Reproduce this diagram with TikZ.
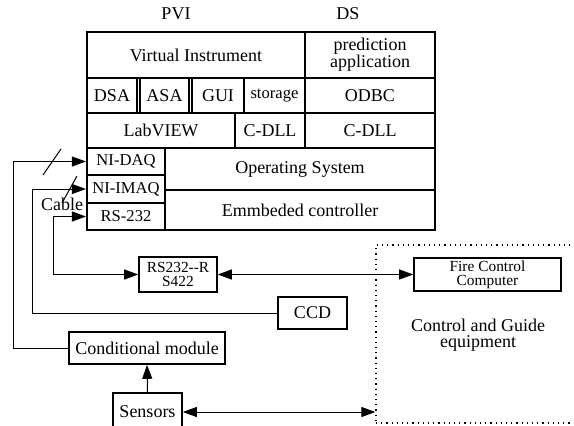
\documentclass[tikz,border=0pt]{standalone}
\usepackage{fontspec}
\setmainfont{Liberation Serif}
\usetikzlibrary{arrows.meta}

\begin{document}
\begin{tikzpicture}[x=0.5pt,y=-0.5pt,
  cell/.style={draw, line width=1.1pt, inner sep=0pt, align=center, font=\fontsize{9}{8.5}\selectfont},
  unit/.style={draw, line width=0.8pt, inner sep=0pt, align=center, font=\fontsize{9}{8.5}\selectfont},
  smalltext/.style={font=\fontsize{8.3}{8}\selectfont},
  tinytext/.style={font=\fontsize{7.7}{7.2}\selectfont},
  link/.style={line width=0.5pt, -{Triangle[length=7pt,width=5pt]}},
  biarrow/.style={line width=0.5pt, {Triangle[length=7pt,width=5pt]}-{Triangle[length=7pt,width=5pt]}}]
\useasboundingbox (0,0) rectangle (574,425);
\node[font=\fontsize{9}{9}\selectfont] (pvi) at (176,14) {PVI};
\node[font=\fontsize{9}{9}\selectfont] (ds) at (348,14) {DS};
% software stack
\node[cell, minimum width=109pt, minimum height=23pt] (vi) at (196,55) {Virtual Instrument};
\node[cell, minimum width=65pt, minimum height=23pt] (pred) at (370,55) {prediction\\application};
\node[cell, minimum width=25pt, minimum height=17.5pt] (dsa) at (112,95.5) {DSA};
\node[cell, minimum width=24.5pt, minimum height=17.5pt] (asa) at (164.5,95.5) {ASA};
\node[cell, minimum width=26pt, minimum height=17.5pt] (gui) at (218,95.5) {GUI};
\node[cell, smalltext, minimum width=30.5pt, minimum height=17.5pt] (store) at (274.5,95.5) {storage};
\node[cell, minimum width=65pt, minimum height=17.5pt] (odbc) at (370,95.5) {ODBC};
\node[cell, minimum width=74pt, minimum height=17.5pt] (labview) at (161,130.5) {LabVIEW};
\node[cell, minimum width=35pt, minimum height=17.5pt] (cdlla) at (270,130.5) {C-DLL};
\node[cell, minimum width=65pt, minimum height=17.5pt] (cdllb) at (370,130.5) {C-DLL};
\node[cell, smalltext, minimum width=39pt, minimum height=13.5pt] (nidaq) at (126,161.5) {NI-DAQ};
\node[cell, smalltext, minimum width=39pt, minimum height=14pt] (nimaq) at (126,189) {NI-IMAQ};
\node[cell, smalltext, minimum width=39pt, minimum height=13.5pt] (rs) at (126,216.5) {RS-232};
\node[cell, minimum width=135pt, minimum height=21pt] (os) at (300,169) {Operating System};
\node[cell, minimum width=135pt, minimum height=20pt] (emb) at (300,210) {Emmbeded controller};
% hardware
\node[unit, tinytext, minimum width=39pt, minimum height=17.5pt] (conv) at (178,274.5) {RS232-{}-R\\S422};
\node[unit, tinytext, minimum width=73.5pt, minimum height=16.5pt] (fire) at (487.5,274.5) {Fire Control\\Computer};
\node[unit, minimum width=34.5pt, minimum height=16pt] (ccd) at (312.5,313) {CCD};
\node[unit, minimum width=78pt, minimum height=16pt] (cond) at (147,348) {Conditional module};
\node[unit, minimum width=34.5pt, minimum height=19pt] (sens) at (147.5,412) {Sensors};
\node[draw, dotted, line width=0.6pt, minimum width=112pt, minimum height=89pt] (cge) at (488,334) {};
\node[align=center, font=\fontsize{9}{8}\selectfont] (cgetext) at (478,335) {Control and Guide\\equipment};
% cables
\coordinate (bus1) at (13,0);
\coordinate (bus2) at (32,0);
\coordinate (bus3) at (53,0);
\draw[link] (cond.west) -| (bus1 |- nidaq.west) -- (nidaq.west);
\draw[link] (ccd.west) -| (bus2 |- nimaq.west) -- (nimaq.west);
\draw[biarrow] (conv.west) -| (bus3 |- rs.west) -- (rs.west);
\draw[biarrow] (conv.east) -- (fire.west);
\draw[link] (sens.north) -- (cond.south);
\draw[biarrow] (sens.east) -- (sens.east -| cge.west);
\draw[line width=0.5pt] (43,175) -- (61,149);
\draw[line width=0.5pt] (62,203) -- (77,176);
\node[font=\fontsize{9}{9}\selectfont] (cable) at (62,204) {Cable};
\end{tikzpicture}
\end{document}
